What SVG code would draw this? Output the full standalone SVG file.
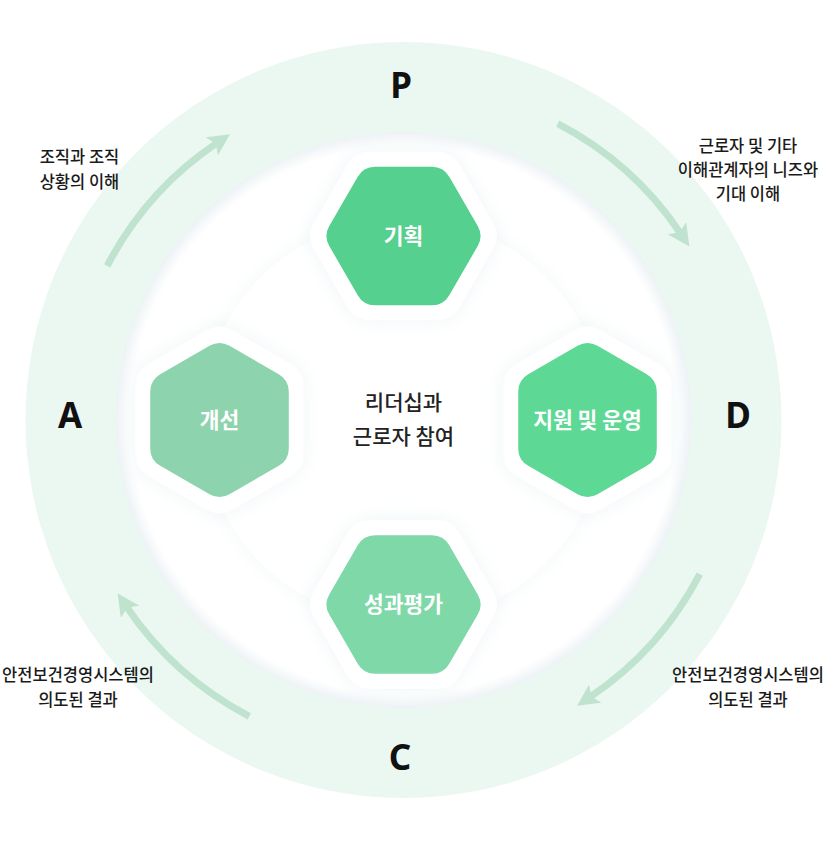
<svg xmlns="http://www.w3.org/2000/svg" width="826" height="841" viewBox="0 0 826 841">
  <style>
    .ring { fill: #ebf8f1; }
    .arrow { fill: none; stroke: #bfe3cf; stroke-width: 7; stroke-linecap: butt; }
    .pdca { font-family: "Noto Sans", "Noto Sans CJK KR", sans-serif; font-weight: 700; font-size: 35px; fill: #111; text-anchor: middle; }
    .side { font-family: "Noto Sans CJK KR", "Noto Sans", sans-serif; font-weight: 500; font-size: 16.5px; fill: #1a1a1a; text-anchor: middle; }
    .center { font-family: "Noto Sans CJK KR", "Noto Sans", sans-serif; font-weight: 500; font-size: 21px; fill: #222; text-anchor: middle; }
    .hexlabel { font-family: "Noto Sans CJK KR", "Noto Sans", sans-serif; font-weight: 700; font-size: 21.5px; fill: #fff; text-anchor: middle; }
    .hexwhite { fill: #fff; }
  </style>
  <defs>
    <radialGradient id="innerGrad" cx="0.5" cy="0.5" r="0.5">
      <stop offset="0.95" stop-color="#ffffff"/>
      <stop offset="1" stop-color="#edf2f5"/>
    </radialGradient>
    <filter id="discShadow" x="-20%" y="-20%" width="140%" height="140%">
      <feGaussianBlur in="SourceAlpha" stdDeviation="10"/>
      <feColorMatrix type="matrix" values="0 0 0 0 0.80  0 0 0 0 0.86  0 0 0 0 0.89  0 0 0 0.45 0"/>
      <feMerge><feMergeNode/><feMergeNode in="SourceGraphic"/></feMerge>
    </filter>
    <filter id="hexShadow" x="-25%" y="-25%" width="150%" height="150%">
      <feGaussianBlur in="SourceAlpha" stdDeviation="8"/>
      <feColorMatrix type="matrix" values="0 0 0 0 0.78  0 0 0 0 0.85  0 0 0 0 0.88  0 0 0 0.6 0"/>
      <feMerge><feMergeNode/><feMergeNode in="SourceGraphic"/></feMerge>
    </filter>
    <path id="hex" d="M74.23,-10 A20,20 0 0 1 74.23,10 L45.77,59.28 A20,20 0 0 1 28.45,69.28 L-28.45,69.28 A20,20 0 0 1 -45.77,59.28 L-74.23,10 A20,20 0 0 1 -74.23,-10 L-45.77,-59.28 A20,20 0 0 1 -28.45,-69.28 L28.45,-69.28 A20,20 0 0 1 45.77,-59.28 Z"/>
    <marker id="head" viewBox="0 0 22 22" refX="6" refY="11" markerWidth="22" markerHeight="22" markerUnits="userSpaceOnUse" orient="auto">
      <path d="M0,0 L22,11 L0,22 L5,11 Z" fill="#bfe3cf"/>
    </marker>
  </defs>

  <g id="background">
    <circle class="ring" cx="403.5" cy="420" r="378"/>
    <circle cx="403.5" cy="420" r="288" fill="url(#innerGrad)"/>
    <circle cx="403.5" cy="420" r="202" fill="#fff" filter="url(#discShadow)"/>
  </g>

  <g id="connectors">
    <path class="arrow" d="M107.2,265.8 A334,334 0 0 1 216.7,143.1" marker-end="url(#head)"/>
    <path class="arrow" d="M557.7,123.7 A334,334 0 0 1 680.4,233.2" marker-end="url(#head)"/>
    <path class="arrow" d="M699.8,574.2 A334,334 0 0 1 590.3,696.9" marker-end="url(#head)"/>
    <path class="arrow" d="M249.3,716.3 A334,334 0 0 1 126.6,606.8" marker-end="url(#head)"/>
  </g>

  <g id="label-P"><text class="pdca" x="401" y="98">P</text></g>
  <g id="label-D"><text class="pdca" x="738" y="428">D</text></g>
  <g id="label-C"><text class="pdca" x="400" y="770">C</text></g>
  <g id="label-A"><text class="pdca" x="70" y="428">A</text></g>

  <g id="note-tl">
    <text class="side" x="79.5" y="163">조직과 조직</text>
    <text class="side" x="79.5" y="188">상황의 이해</text>
  </g>
  <g id="note-tr">
    <text class="side" x="748" y="152">근로자 및 기타</text>
    <text class="side" x="748" y="176">이해관계자의 니즈와</text>
    <text class="side" x="748" y="200">기대 이해</text>
  </g>
  <g id="note-bl">
    <text class="side" x="78" y="681">안전보건경영시스템의</text>
    <text class="side" x="78" y="706">의도된 결과</text>
  </g>
  <g id="note-br">
    <text class="side" x="748" y="681">안전보건경영시스템의</text>
    <text class="side" x="748" y="706">의도된 결과</text>
  </g>

  <g id="center-label">
    <text class="center" x="403.5" y="410">리더십과</text>
    <text class="center" x="403.5" y="444">근로자 참여</text>
  </g>

  <g id="node-plan" transform="translate(403.5,236)">
    <use href="#hex" class="hexwhite" transform="scale(1.215)" filter="url(#hexShadow)"/>
    <use href="#hex" fill="#55d08e"/>
    <text class="hexlabel" x="0" y="7.5">기획</text>
  </g>
  <g id="node-do" transform="translate(587.5,420)">
    <use href="#hex" class="hexwhite" transform="rotate(90) scale(1.215)" filter="url(#hexShadow)"/>
    <use href="#hex" fill="#5dd995" transform="rotate(90)"/>
    <text class="hexlabel" x="0" y="7.5">지원 및 운영</text>
  </g>
  <g id="node-check" transform="translate(403.5,604.5)">
    <use href="#hex" class="hexwhite" transform="scale(1.215)" filter="url(#hexShadow)"/>
    <use href="#hex" fill="#7fd8a8"/>
    <text class="hexlabel" x="0" y="7.5">성과평가</text>
  </g>
  <g id="node-act" transform="translate(219.5,420)">
    <use href="#hex" class="hexwhite" transform="rotate(90) scale(1.215)" filter="url(#hexShadow)"/>
    <use href="#hex" fill="#8dd4ae" transform="rotate(90)"/>
    <text class="hexlabel" x="0" y="7.5">개선</text>
  </g>
</svg>
